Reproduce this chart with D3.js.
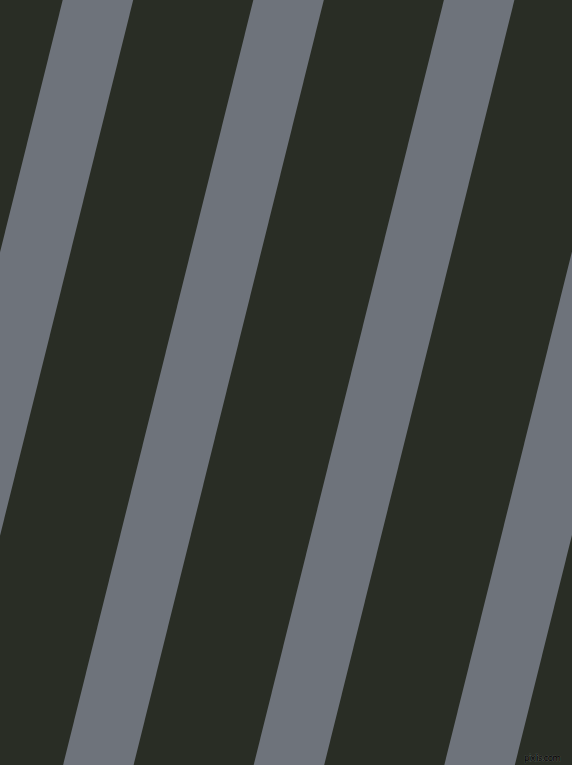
<!DOCTYPE html>
<html><head><meta charset="utf-8">
<script src="https://cdn.jsdelivr.net/npm/d3@7"></script>
<style>html,body{margin:0;padding:0;background:#292d25;}svg{display:block}</style>
</head><body>
<script>
const W = 572, H = 765;
// stripe indices (each repeat of the pattern)
const stripeIndex = [-1, 0, 1, 2, 3];
const colors = { background: "#292d25", stripe: "#6e737b" };
const watermark = ["pixlis.com"];

const period = 190.6, offset = 62.7, bandW = 70.5, shift = 190.2;
const x = d3.scaleLinear().domain([0, 1]).range([offset, offset + period]);
const y = d3.scaleLinear().domain([0, 1]).range([0, H]);

const svg = d3.select("body").append("svg").attr("width", W).attr("height", H);
svg.append("rect").attr("width", W).attr("height", H).attr("fill", colors.background);

svg.selectAll("path.stripe").data(stripeIndex).join("path")
  .attr("class", "stripe")
  .attr("fill", colors.stripe)
  .attr("d", d => {
    const x0 = x(d);
    return d3.line()([[x0, y(0)], [x0 + bandW, y(0)], [x0 + bandW - shift, y(1)], [x0 - shift, y(1)]]) + "Z";
  });

svg.selectAll("text.wm").data(watermark).join("text")
  .attr("class", "wm")
  .attr("x", 561).attr("y", 761)
  .attr("text-anchor", "end")
  .attr("font-family", "DejaVu Sans, sans-serif")
  .attr("font-size", 9)
  .attr("textLength", 37)
  .attr("fill", "#000")
  .attr("stroke", "rgba(200,200,200,0.35)")
  .attr("stroke-width", 0.6)
  .attr("paint-order", "stroke")
  .text(d => d);
</script>
</body></html>
